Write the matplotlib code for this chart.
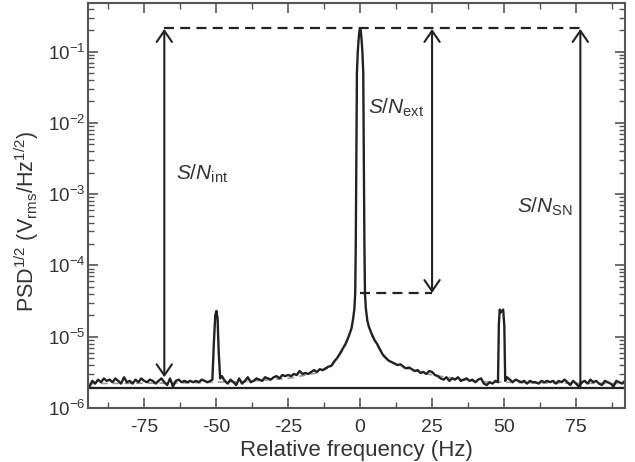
import matplotlib
matplotlib.use("Agg")
import matplotlib.pyplot as plt

plt.rcParams['font.family'] = ['Liberation Sans', 'DejaVu Sans']
plt.rcParams['mathtext.fontset'] = 'custom'
plt.rcParams['mathtext.rm'] = 'Liberation Sans'
plt.rcParams['mathtext.it'] = 'Liberation Sans:italic'
plt.rcParams['mathtext.default'] = 'regular'

# measured spectrum, frequency in Hz, PSD^1/2 in units of 1e-6 V/sqrt(Hz)
freq = [-94, -93, -92, -91, -90, -89, -88, -87, -86, -85, -84, -83, -82, -81,
        -80, -79, -78, -77, -76, -75, -74, -73, -72, -71, -70, -69, -68, -67,
        -66, -65, -64, -63, -62, -61, -60, -59, -58, -57, -56, -55, -54, -53,
        -52, -51.3, -50.8, -50.3, -49.9, -49.5, -49.1, -48.6, -48, -47, -46,
        -45, -44, -43, -42, -41, -40, -39, -38, -37, -36, -35, -34, -33, -32,
        -31, -30, -29, -28, -27, -26, -25, -24, -23, -22, -21, -20, -19, -18,
        -17, -16, -15, -14, -13, -12, -11, -10, -9, -8, -7, -6, -5, -4, -3,
        -2.5, -2, -1.7, -1.5, -1.3, -1.1, -0.8, -0.5, -0.2, 0, 0.2, 0.5, 0.8,
        1.1, 1.3, 1.5, 1.7, 2, 2.5, 3, 4, 5, 6, 7, 8, 9, 10, 11, 12, 13, 14,
        15, 16, 17, 18, 19, 20, 21, 22, 23, 24, 25, 26, 27, 28, 29, 30, 31,
        32, 33, 34, 35, 36, 37, 38, 39, 40, 41, 42, 43, 44, 45, 46, 47, 47.9,
        48.2, 48.5, 48.9, 49.3, 49.7, 50.1, 50.4, 51, 52, 53, 54, 55, 56, 57,
        58, 59, 60, 61, 62, 63, 64, 65, 66, 67, 68, 69, 70, 71, 72, 73, 74,
        75, 76, 77, 78, 79, 80, 81, 82, 83, 84, 85, 86, 87, 88, 89, 90, 91, 92]
psd = [2.0, 2.4, 2.2, 2.5, 2.3, 2.6, 2.4, 2.5, 2.3, 2.6, 2.4, 2.2, 2.7, 2.3,
       2.4, 2.2, 2.5, 2.3, 2.6, 2.4, 2.3, 2.5, 2.4, 2.2, 2.4, 2.6, 2.3, 2.1,
       2.6, 2.0, 2.4, 2.5, 2.3, 2.4, 2.3, 2.4, 2.3, 2.4, 2.3, 2.5, 2.4, 2.3,
       2.4, 2.5, 8, 20, 23, 18, 6, 2.6, 2.8, 2.4, 2.2,
       2.5, 2.3, 2.1, 2.6, 2.2, 2.4, 2.7, 2.3, 2.4, 2.6, 2.5, 2.4, 2.7, 2.6,
       2.5, 2.7, 2.8, 2.6, 2.9, 2.8, 2.9, 2.8, 3.0, 2.9, 3.3, 3.0, 3.1, 3.0,
       3.2, 3.4, 3.2, 3.5, 3.4, 3.6, 3.8, 3.9, 4.5, 5.0, 5.8, 6.8, 8.0, 10, 13,
       17, 24, 40, 200, 3000, 50000, 100000, 150000, 200000, 205000, 200000, 150000, 100000,
       50000, 3000, 200, 40, 25, 17, 14, 11, 9.0, 7.8, 6.5, 5.5, 5.0, 4.6, 4.4, 4.2, 4.0, 4.1,
       3.8, 3.6, 3.7, 3.5, 3.3, 3.4, 3.1, 3.2, 3.0, 3.3, 3.2, 2.9, 2.8, 2.6, 2.5, 2.7, 2.4,
       2.6, 2.5, 2.7, 2.4, 2.5, 2.6, 2.4, 2.5, 2.3, 2.5, 2.6, 2.2, 2.1, 2.3, 2.2, 2.4, 2.3,
       15, 24, 22, 23, 24, 14, 2.4, 2.7, 2.5, 2.3, 2.5, 2.4, 2.3, 2.4,
       2.2, 2.4, 2.3, 2.3, 2.2, 2.4, 2.3, 2.4, 2.3, 2.4, 2.2, 2.4, 2.3, 2.5, 2.3, 2.1, 2.4,
       2.2, 2.0, 2.3, 2.4, 2.2, 2.5, 2.3, 2.4, 2.2, 2.1, 2.4, 2.3, 2.2, 2.0, 2.4, 2.3, 2.2, 2.4]

# fitted background (grey dashed), hidden under the trace near the carrier
fit_freq = [-94, -60, -40, -25, -15, -10, -6, -4, float('nan'), 4, 6, 10, 15, 25, 40, 60, 94]
fit_psd = [2.2, 2.25, 2.35, 2.6, 3.1, 3.8, 6.4, 9.5, float('nan'), 10.5, 7.6, 4.5, 3.7, 2.9, 2.35, 2.25, 2.2]

shot_noise = 1.9     # solid line level, 1e-6
peak_level = 0.214   # top dashed line
ext_level = 4.1e-5   # lower dashed line
floor_level = 2.7e-6

x_int, x_ext, x_sn = -68, 25, 76.5

fig = plt.figure(figsize=(6.35, 4.62), dpi=100)
ax = fig.add_axes([0.1386, 0.1169, 0.8456, 0.8766])

ink = '#222222'
ax.plot(fit_freq, [v * 1e-6 for v in fit_psd], color='#9a9a9a', lw=1.2, ls=(0, (4, 3)), zorder=1)
ax.plot(freq, [v * 1e-6 for v in psd], color=ink, lw=1.7, zorder=2)
ax.axhline(shot_noise * 1e-6, color=ink, lw=1.6, zorder=2)

dash = (0, (4.5, 2.8))
ax.plot([x_int, x_sn + 1.5], [peak_level, peak_level], color=ink, lw=1.6, ls=dash)
ax.plot([0, x_ext], [ext_level, ext_level], color=ink, lw=1.6, ls=dash)

arrow = dict(arrowstyle='<->, head_length=0.8, head_width=0.55', lw=1.5, color=ink,
             shrinkA=0, shrinkB=0, mutation_scale=10)
ax.annotate('', xy=(x_int, peak_level * 0.97), xytext=(x_int, floor_level), arrowprops=arrow)
ax.annotate('', xy=(x_ext, peak_level * 0.97), xytext=(x_ext, ext_level), arrowprops=arrow)
arrow_sn = dict(arrow, arrowstyle='->, head_length=0.8, head_width=0.55')
ax.annotate('', xy=(x_sn, peak_level * 0.97), xytext=(x_sn, shot_noise * 1e-6), arrowprops=arrow_sn)

tc = '#333333'
ax.text(-64, 1.9e-3, r'$\mathit{S/N}_{int}$', fontsize=15, color=tc, va='center', ha='left')
ax.text(2.8, 1.6e-2, r'$\mathit{S/N}_{ext}$', fontsize=15, color=tc, va='center', ha='left')
ax.text(54.5, 6.6e-4, r'$\mathit{S/N}_{SN}$', fontsize=15, color=tc, va='center', ha='left')

ax.set_yscale('log')
ax.set_xlim(-94.5, 92)
ax.set_ylim(1e-6, 0.48)
ax.set_xticks([-75, -50, -25, 0, 25, 50, 75])
ax.set_xticklabels(['-75', '-50', '-25', '0', '25', '50', '75'])
ax.set_xticks([-87.5, -62.5, -37.5, -12.5, 12.5, 37.5, 62.5, 87.5], minor=True)
ax.set_yticks([1e-6, 1e-5, 1e-4, 1e-3, 1e-2, 1e-1])

ax.tick_params(which='both', direction='in', top=True, right=True, colors='#555555',
               labelcolor=tc)
ax.tick_params(axis='x', labelsize=14, pad=8)
ax.tick_params(axis='y', labelsize=13.5, pad=2)
ax.tick_params(which='major', length=7, width=1.2)
ax.tick_params(which='minor', length=4, width=1.0)
for s in ax.spines.values():
    s.set_color('#555555')
    s.set_linewidth(1.5)

ax.set_xlabel('Relative frequency (Hz)', fontsize=16, color=tc, labelpad=3)
ax.set_ylabel(r'PSD$^{1/2}$ (V$_{rms}$/Hz$^{1/2}$)', fontsize=15.5, color=tc)
ax.yaxis.set_label_coords(-0.087, 0.46)

fig.savefig('out.png', dpi=100)
